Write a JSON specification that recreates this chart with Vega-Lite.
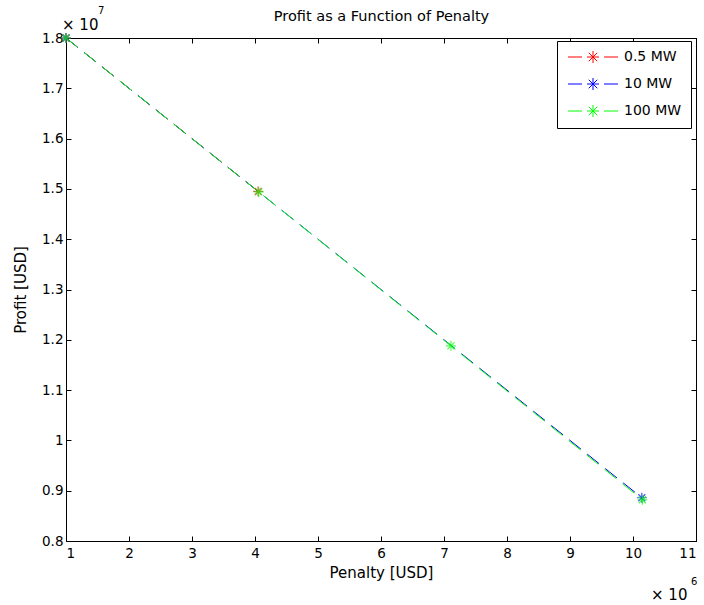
{
  "$schema": "https://vega.github.io/schema/vega-lite/v6.json",
  "width": 630,
  "height": 503,
  "autosize": {"type": "none"},
  "padding": {"left": 66, "top": 38, "right": 8, "bottom": 64},
  "background": "white",
  "config": {
    "view": {"stroke": "black", "strokeWidth": 1},
    "axis": {"grid": false, "domainColor": "black", "tickColor": "black", "labelColor": "black", "titleColor": "black", "labelFont": "DejaVu Sans", "titleFont": "DejaVu Sans", "labelFontSize": 13.5, "titleFontSize": 15, "titleFontWeight": "normal", "tickSize": -5}
  },
  "datasets": {
    "series": [
      {"penalty": 1000000, "profit": 18000000, "series": "0.5 MW"},
      {"penalty": 4050000, "profit": 14950000, "series": "0.5 MW"},
      {"penalty": 1000000, "profit": 18000000, "series": "10 MW"},
      {"penalty": 10140000, "profit": 8860000, "series": "10 MW"},
      {"penalty": 1000000, "profit": 18000000, "series": "100 MW"},
      {"penalty": 4060000, "profit": 14940000, "series": "100 MW"},
      {"penalty": 7110000, "profit": 11880000, "series": "100 MW"},
      {"penalty": 10150000, "profit": 8820000, "series": "100 MW"}
    ],
    "notes": [
      {"penalty": 1000000, "profit": 18000000, "base": "× 10", "sup": "7", "corner": "top"},
      {"penalty": 11000000, "profit": 8000000, "base": "× 10", "sup": "6", "corner": "bottom"}
    ]
  },
  "layer": [
    {
      "data": {"name": "series"},
      "mark": {"type": "line", "strokeDash": [15, 8], "strokeWidth": 1, "clip": false},
      "encoding": {
        "x": {"field": "penalty", "type": "quantitative", "scale": {"domain": [1000000, 11000000], "nice": false, "zero": false},
              "axis": {"orient": "bottom", "title": "Penalty [USD]", "values": [1000000, 2000000, 3000000, 4000000, 5000000, 6000000, 7000000, 8000000, 9000000, 10000000, 11000000], "labelExpr": "format(datum.value/1000000, '~g')", "labelPadding": 10, "titlePadding": 6}},
        "y": {"field": "profit", "type": "quantitative", "scale": {"domain": [8000000, 18000000], "nice": false, "zero": false},
              "axis": {"orient": "left", "title": "Profit [USD]", "values": [8000000, 9000000, 10000000, 11000000, 12000000, 13000000, 14000000, 15000000, 16000000, 17000000, 18000000], "labelExpr": "format(datum.value/10000000, '.1~f')", "labelPadding": 8, "titlePadding": 13}},
        "color": {"field": "series", "type": "nominal",
                  "scale": {"domain": ["0.5 MW", "10 MW", "100 MW"], "range": ["#ff0000", "#0000ff", "#00ff00"]},
                  "legend": {"title": null, "orient": "none", "legendX": 491, "legendY": 3, "fillColor": "white", "strokeColor": "black", "padding": 9,
                             "symbolType": "M-5,0H-2.2M2.2,0H5M-1.2,0H1.2M0,-1.2V1.2M-0.85,-0.85L0.85,0.85M-0.85,0.85L0.85,-0.85",
                             "symbolSize": 100, "symbolStrokeWidth": 1, "symbolOffset": 20, "labelOffset": 24, "rowPadding": 11,
                             "labelFont": "DejaVu Sans", "labelFontSize": 14, "labelColor": "black"}}
      }
    },
    {
      "data": {"name": "series"},
      "mark": {"type": "point", "filled": false, "strokeWidth": 1.2, "size": 100, "clip": false,
               "shape": "M-1,0H1M0,-1V1M-0.7,-0.7L0.7,0.7M-0.7,0.7L0.7,-0.7"},
      "encoding": {
        "x": {"field": "penalty", "type": "quantitative", "axis": {"orient": "top", "title": "Profit as a Function of Penalty", "titleFontSize": 14.5, "titleBaseline": "alphabetic", "titlePadding": 17, "labels": false, "values": [1000000, 2000000, 3000000, 4000000, 5000000, 6000000, 7000000, 8000000, 9000000, 10000000, 11000000]}},
        "y": {"field": "profit", "type": "quantitative", "axis": {"orient": "right", "title": null, "labels": false, "values": [8000000, 9000000, 10000000, 11000000, 12000000, 13000000, 14000000, 15000000, 16000000, 17000000, 18000000]}},
        "color": {"field": "series", "type": "nominal", "legend": null}
      }
    },
    {
      "data": {"name": "notes"},
      "transform": [{"filter": "datum.corner == 'top'"}],
      "layer": [
        {"mark": {"type": "text", "align": "left", "baseline": "alphabetic", "dx": -4, "dy": -8, "font": "DejaVu Sans", "fontSize": 15, "color": "black"},
         "encoding": {"text": {"field": "base"}}},
        {"mark": {"type": "text", "align": "left", "baseline": "alphabetic", "dx": 32, "dy": -24, "font": "DejaVu Sans", "fontSize": 10, "color": "black"},
         "encoding": {"text": {"field": "sup"}}}
      ],
      "encoding": {
        "x": {"field": "penalty", "type": "quantitative", "axis": null},
        "y": {"field": "profit", "type": "quantitative", "axis": null}
      }
    },
    {
      "data": {"name": "notes"},
      "transform": [{"filter": "datum.corner == 'bottom'"}],
      "layer": [
        {"mark": {"type": "text", "align": "left", "baseline": "alphabetic", "dx": -45, "dy": 59, "font": "DejaVu Sans", "fontSize": 15, "color": "black"},
         "encoding": {"text": {"field": "base"}}},
        {"mark": {"type": "text", "align": "left", "baseline": "alphabetic", "dx": -5, "dy": 44, "font": "DejaVu Sans", "fontSize": 10, "color": "black"},
         "encoding": {"text": {"field": "sup"}}}
      ],
      "encoding": {
        "x": {"field": "penalty", "type": "quantitative", "axis": null},
        "y": {"field": "profit", "type": "quantitative", "axis": null}
      }
    }
  ],
  "resolve": {"axis": {"x": "independent", "y": "independent"}}
}
